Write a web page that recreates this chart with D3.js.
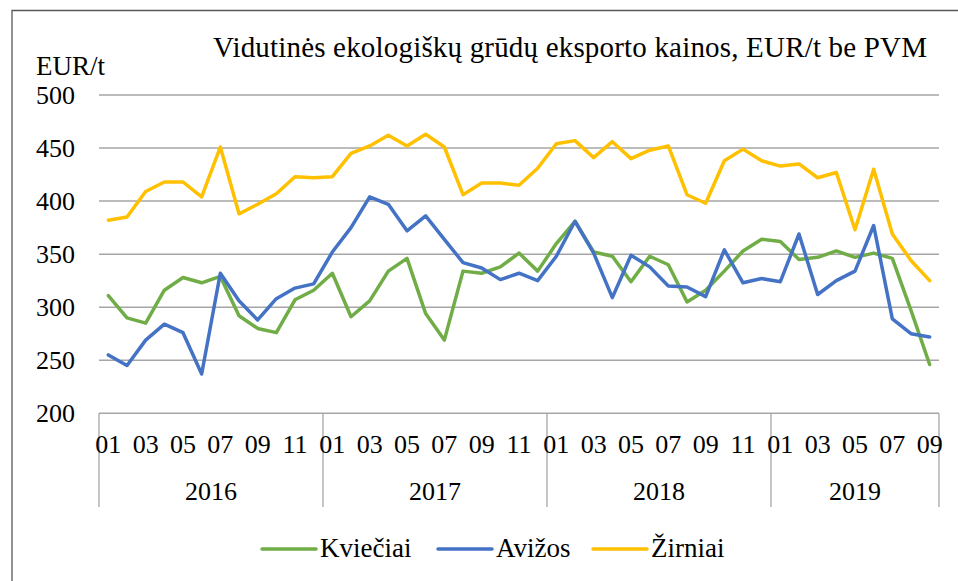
<!DOCTYPE html>
<html>
<head>
<meta charset="utf-8">
<script src="https://cdn.jsdelivr.net/npm/d3@7"></script>
<style>
  body { margin: 0; background: #fff; }
  svg text { font-family: "Liberation Serif", "Times New Roman", serif; fill: #000; }
</style>
</head>
<body>
<svg id="chart" width="958" height="581"></svg>
<script>
// months 2016-01 .. 2019-09
var years = [2016, 2017, 2018, 2019]
var monthsPerYear = [12, 12, 12, 9]
var yTicks = [200, 250, 300, 350, 400, 450, 500]

var kvieciai = [311, 290, 285, 316, 328, 323, 329, 292, 280, 276, 307, 316,
                332, 291, 306, 334, 346, 294, 269, 334, 332, 338, 351, 334,
                360, 381, 352, 348, 324, 348, 340, 305, 316, 334, 353, 364,
                362, 345, 347, 353, 347, 351, 346, 297, 246]
var avizos = [255, 245, 269, 284, 276, 237, 332, 306, 288, 308, 318, 322,
              352, 375, 404, 397, 372, 386, 364, 342, 337, 326, 332, 325,
              348, 381, 351, 309, 349, 338, 320, 319, 310, 354, 323, 327,
              324, 369, 312, 325, 334, 377, 289, 275, 272]
var zirniai = [382, 385, 409, 418, 418, 404, 451, 388, 397, 407, 423, 422,
               423, 445, 452, 462, 452, 463, 451, 406, 417, 417, 415, 431,
               454, 457, 441, 456, 440, 448, 452, 406, 398, 438, 449, 438,
               433, 435, 422, 427, 373, 430, 369, 344, 325]

var seriesNames = ["Kviečiai", "Avižos", "Žirniai"]
var seriesValues = [kvieciai, avizos, zirniai]
var seriesColors = ["#70AD47", "#4472C4", "#FFC000"]

// build month list
var months = []
years.forEach(function (yr, yi) {
    for (var m = 1; m <= monthsPerYear[yi]; m++) {
        months.push({ year: yr, month: String(m).padStart(2, '0') })
    }
})

var svg = d3.select("#chart")
var plotLeft = 99, plotRight = 939, plotTop = 95, plotBottom = 413.3

var x = d3.scaleBand()
    .domain(d3.range(months.length))
    .range([plotLeft, plotRight])
var y = d3.scaleLinear()
    .domain([200, 500])
    .range([plotBottom, plotTop])

// outer frame
svg.append("path")
    .attr("d", "M12,600 L12,10.5 L970,10.5")
    .attr("fill", "none")
    .attr("stroke", "#595959")
    .attr("stroke-width", 1.3)

// title
svg.append("text")
    .attr("x", 213)
    .attr("y", 57)
    .attr("textLength", 714)
    .style("font-size", "29px")
    .text("Vidutinės ekologiškų grūdų eksporto kainos, EUR/t be PVM")

svg.append("text")
    .attr("x", 36)
    .attr("y", 75)
    .style("font-size", "27px")
    .text("EUR/t")

// gridlines
svg.append("g").selectAll("line")
    .data(yTicks)
    .enter()
    .append("line")
    .attr("x1", plotLeft)
    .attr("x2", plotRight)
    .attr("y1", d => y(d))
    .attr("y2", d => y(d))
    .attr("stroke", "#A6A6A6")
    .attr("stroke-width", 1.5)

svg.append("g").selectAll("text")
    .data(yTicks)
    .enter()
    .append("text")
    .attr("x", 75)
    .attr("y", d => y(d) + 8.5)
    .attr("text-anchor", "end")
    .style("font-size", "26px")
    .text(d => d)

// year dividers
var boundaries = [0]
monthsPerYear.forEach(function (n, i) { boundaries.push(boundaries[i] + n) })
svg.append("g").selectAll("line")
    .data(boundaries)
    .enter()
    .append("line")
    .attr("x1", d => d < months.length ? x(d) : plotRight)
    .attr("x2", d => d < months.length ? x(d) : plotRight)
    .attr("y1", plotBottom)
    .attr("y2", 507)
    .attr("stroke", "#A6A6A6")
    .attr("stroke-width", 1.3)

// month labels (odd months)
svg.append("g").selectAll("text")
    .data(months.map((d, i) => ({ d: d, i: i })).filter(o => (+o.d.month) % 2 == 1))
    .enter()
    .append("text")
    .attr("x", o => x(o.i) + x.bandwidth() / 2)
    .attr("y", 453)
    .attr("text-anchor", "middle")
    .style("font-size", "26px")
    .text(o => o.d.month)

// year labels
svg.append("g").selectAll("text")
    .data(years)
    .enter()
    .append("text")
    .attr("x", (d, i) => {
        var a = x(boundaries[i])
        var b = boundaries[i + 1] < months.length ? x(boundaries[i + 1]) : plotRight
        return (a + b) / 2
    })
    .attr("y", 500)
    .attr("text-anchor", "middle")
    .style("font-size", "26px")
    .text(d => d)

// lines
var line = d3.line()
    .x((d, i) => x(i) + x.bandwidth() / 2)
    .y(d => y(d))

svg.append("g").selectAll("path")
    .data(seriesValues)
    .enter()
    .append("path")
    .attr("d", d => line(d))
    .attr("fill", "none")
    .attr("stroke", (d, i) => seriesColors[i])
    .attr("stroke-width", 3.5)
    .attr("stroke-linejoin", "round")
    .attr("stroke-linecap", "round")

// legend
var legendX = [262, 438, 593]
var legend = svg.append("g").selectAll("g")
    .data(seriesNames)
    .enter()
    .append("g")
    .attr("transform", (d, i) => "translate(" + legendX[i] + ",549)")

legend.append("line")
    .attr("x1", 0)
    .attr("x2", 54)
    .attr("stroke", (d, i) => seriesColors[i])
    .attr("stroke-width", 3.5)
    .attr("stroke-linecap", "round")

legend.append("text")
    .attr("x", 58)
    .attr("y", 8)
    .style("font-size", "27px")
    .text(d => d)
</script>
</body>
</html>
